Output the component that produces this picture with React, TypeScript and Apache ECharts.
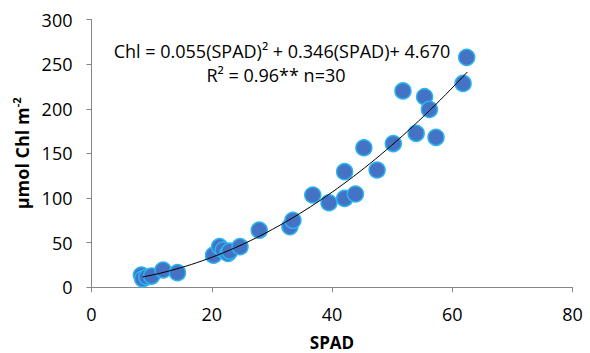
import React, { useEffect, useRef } from "react";
import * as echarts from "echarts";

const spad = [8.3, 8.5, 9.2, 10.0, 11.9, 14.3, 20.3, 21.3, 21.9, 22.7, 23.0, 24.7, 27.9, 33.0, 33.5, 36.8, 39.5, 42.1, 43.9, 42.1, 45.3, 47.5, 50.2, 54.0, 57.3, 51.8, 55.4, 56.2, 61.8, 62.4];
const chl = [13.8, 9.5, 11.5, 12.6, 19.4, 16.4, 36, 45.5, 41.8, 38, 40.5, 45.5, 64, 68, 75, 103.4, 94.7, 99.6, 104.5, 129.5, 156.3, 131.4, 161, 172.5, 168, 220, 213.5, 199.3, 228.4, 257.6];

const xTicks = [0, 20, 40, 60, 80];
const yTicks = [0, 50, 100, 150, 200, 250, 300];

// Trendline coefficients as printed on the chart
const coefA = 0.055;
const coefB = 0.346;
const coefC = 4.67;
const trendFrom = 8.5;
const trendTo = 62.5;

const FONT = "'Open Sans', 'Noto Sans', sans-serif";

export default function App() {
  const ref = useRef<HTMLDivElement>(null);
  useEffect(() => {
    if (!ref.current) return;
    const chart = echarts.init(ref.current, undefined, { renderer: "svg" });
    const points = spad.map((x, i) => [x, chl[i]]);
    const trend: number[][] = [];
    const steps = 60;
    for (let i = 0; i <= steps; i++) {
      const x = trendFrom + ((trendTo - trendFrom) * i) / steps;
      trend.push([x, coefA * x * x + coefB * x + coefC]);
    }
    const axisCommon = {
      axisLine: { show: true, lineStyle: { color: "#868686", width: 1 } },
      axisTick: { show: true, length: 5, lineStyle: { color: "#868686" } },
      splitLine: { show: false },
    };
    chart.setOption({
      animation: false,
      backgroundColor: "#fff",
      grid: { left: 91.5, right: 17.5, top: 19.5, bottom: 65.7, outerBoundsMode: "none", containLabel: false },
      xAxis: {
        type: "value",
        min: xTicks[0],
        max: xTicks[xTicks.length - 1],
        interval: 20,
        ...axisCommon,
        axisLabel: { color: "#000", fontFamily: FONT, fontSize: 18, margin: 18 },
        name: "SPAD",
        nameLocation: "middle",
        nameGap: 47,
        nameTextStyle: { color: "#000", fontFamily: FONT, fontSize: 17, fontWeight: "bold" },
      },
      yAxis: {
        type: "value",
        min: yTicks[0],
        max: yTicks[yTicks.length - 1],
        interval: 50,
        ...axisCommon,
        axisLabel: { color: "#000", fontFamily: FONT, fontSize: 18, margin: 19 },
        name: "{a|µmol Chl m}{s|-2}",
        nameLocation: "middle",
        nameGap: 52,
        nameTextStyle: {
          color: "#000",
          fontFamily: FONT,
          fontWeight: "bold",
          rich: {
            a: { fontSize: 18, fontWeight: "bold", fontFamily: FONT, color: "#000", lineHeight: 22 },
            s: { fontSize: 11, fontWeight: "bold", fontFamily: FONT, color: "#000", lineHeight: 12, verticalAlign: "top" },
          },
        },
      },
      graphic: [
        {
          type: "text",
          x: 282,
          y: 51,
          style: {
            text: "Chl = 0.055(SPAD)² + 0.346(SPAD)+ 4.670",
            fontFamily: FONT,
            fontSize: 18,
            fill: "#000",
            align: "center",
            verticalAlign: "middle",
          },
        },
        {
          type: "text",
          x: 276,
          y: 75,
          style: {
            text: "R² = 0.96** n=30",
            fontFamily: FONT,
            fontSize: 18,
            fill: "#000",
            align: "center",
            verticalAlign: "middle",
          },
        },
      ],
      series: [
        {
          type: "scatter",
          data: points,
          symbolSize: 16,
          itemStyle: { color: "#4472C4", borderColor: "#2BB5F0", borderWidth: 1.5, opacity: 1 },
          z: 2,
        },
        {
          type: "line",
          data: trend,
          showSymbol: false,
          smooth: false,
          lineStyle: { color: "#000", width: 1 },
          z: 3,
        },
      ],
    });
    return () => chart.dispose();
  }, []);
  return <div ref={ref} style={{ width: 590, height: 353, position: "absolute", left: 0, top: 0 }} />;
}
